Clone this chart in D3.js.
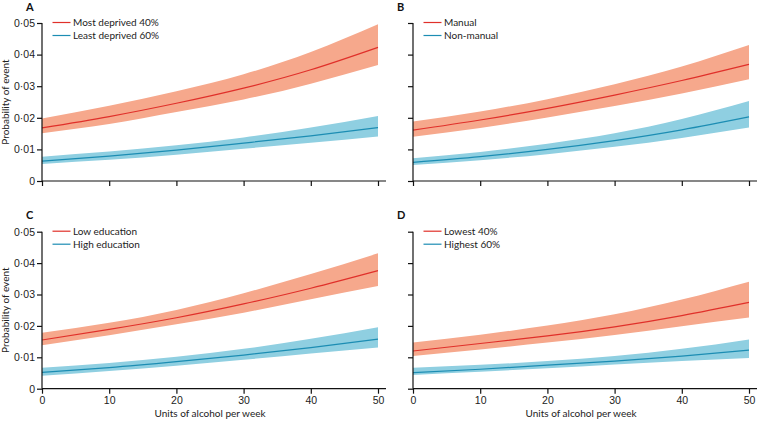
<!DOCTYPE html>
<html>
<head>
<meta charset="utf-8">
<script src="https://cdn.jsdelivr.net/npm/d3@7"></script>
<style>
  body { margin: 0; background: #fff; }
  svg { display: block; font-family: Lato, "Open Sans", sans-serif; }
  .axis path, .axis line { stroke: #111; stroke-width: 1.2; }
  .axis text { font-size: 10.5px; fill: #222; }
  .lbl { font-size: 10px; fill: #222; }
</style>
</head>
<body>
<svg id="chart" width="757" height="421"></svg>
<script>
const units = [0, 10, 20, 30, 40, 50];
const xTicks = [0, 10, 20, 30, 40, 50];
const yTicks = [0, 0.01, 0.02, 0.03, 0.04, 0.05];

// A: deprivation
const aRed   = [0.0168, 0.0204, 0.0246, 0.0294, 0.0352, 0.0423];
const aRedLo = [0.0151, 0.0180, 0.0218, 0.0258, 0.0308, 0.0367];
const aRedHi = [0.0198, 0.0238, 0.0284, 0.0338, 0.0408, 0.0496];
const aBlue   = [0.0063, 0.0079, 0.0098, 0.0120, 0.0143, 0.0169];
const aBlueLo = [0.0054, 0.0067, 0.0083, 0.0102, 0.0121, 0.0141];
const aBlueHi = [0.0077, 0.0093, 0.0113, 0.0138, 0.0169, 0.0206];

// B: occupation
const bRed   = [0.0161, 0.0193, 0.0230, 0.0272, 0.0318, 0.0369];
const bRedLo = [0.0140, 0.0168, 0.0201, 0.0237, 0.0277, 0.0322];
const bRedHi = [0.0188, 0.0220, 0.0259, 0.0306, 0.0362, 0.0430];
const bBlue   = [0.0059, 0.0077, 0.0100, 0.0128, 0.0162, 0.0203];
const bBlueLo = [0.0051, 0.0066, 0.0085, 0.0108, 0.0136, 0.0169];
const bBlueHi = [0.0072, 0.0092, 0.0118, 0.0151, 0.0196, 0.0253];

// C: education
const cRed   = [0.0155, 0.0189, 0.0226, 0.0270, 0.0320, 0.0376];
const cRedLo = [0.0138, 0.0170, 0.0205, 0.0242, 0.0285, 0.0327];
const cRedHi = [0.0178, 0.0210, 0.0251, 0.0304, 0.0365, 0.0431];
const cBlue   = [0.0052, 0.0067, 0.0086, 0.0107, 0.0131, 0.0158];
const cBlueLo = [0.0041, 0.0056, 0.0073, 0.0092, 0.0112, 0.0131];
const cBlueHi = [0.0067, 0.0082, 0.0102, 0.0127, 0.0159, 0.0196];

// D: income
const dRed   = [0.0120, 0.0144, 0.0168, 0.0197, 0.0233, 0.0275];
const dRedLo = [0.0104, 0.0125, 0.0147, 0.0171, 0.0199, 0.0227];
const dRedHi = [0.0147, 0.0172, 0.0201, 0.0237, 0.0284, 0.0341];
const dBlue   = [0.0051, 0.0062, 0.0075, 0.0088, 0.0104, 0.0123];
const dBlueLo = [0.0044, 0.0054, 0.0065, 0.0077, 0.0088, 0.0098];
const dBlueHi = [0.0067, 0.0076, 0.0088, 0.0104, 0.0127, 0.0157];

const legendA = ["Most deprived 40%", "Least deprived 60%"];
const legendB = ["Manual", "Non-manual"];
const legendC = ["Low education", "High education"];
const legendD = ["Lowest 40%", "Highest 60%"];

const colors = {
  redLine: "#e0302a", redBand: "#f6a88c",
  blueLine: "#1c8db3", blueBand: "#8fcfe1"
};

const svg = d3.select("#chart");
const fmt = d => d === 0 ? "0" : d3.format(".2f")(d).replace(".", "·");

const panels = [
  { id: "A", x0: 42, x1: 378, y0: 181, y1: 23, red: [aRed, aRedLo, aRedHi], blue: [aBlue, aBlueLo, aBlueHi], legend: legendA, yLab: true, xLab: false },
  { id: "B", x0: 413, x1: 749, y0: 181, y1: 23, red: [bRed, bRedLo, bRedHi], blue: [bBlue, bBlueLo, bBlueHi], legend: legendB, yLab: false, xLab: false },
  { id: "C", x0: 42, x1: 378, y0: 388.7, y1: 231.7, red: [cRed, cRedLo, cRedHi], blue: [cBlue, cBlueLo, cBlueHi], legend: legendC, yLab: true, xLab: true },
  { id: "D", x0: 413, x1: 749, y0: 388.7, y1: 231.7, red: [dRed, dRedLo, dRedHi], blue: [dBlue, dBlueLo, dBlueHi], legend: legendD, yLab: false, xLab: true }
];

panels.forEach(p => {
  const x = d3.scaleLinear().domain([0, 50]).range([p.x0, p.x1]);
  const y = d3.scaleLinear().domain([0, 0.05]).range([p.y0, p.y1]);
  const g = svg.append("g");

  const band = d3.area()
    .x(d => x(d.u)).y0(d => y(d.lo)).y1(d => y(d.hi))
    .curve(d3.curveNatural);
  const line = d3.line()
    .x(d => x(d.u)).y(d => y(d.v))
    .curve(d3.curveNatural);

  [["red", p.red], ["blue", p.blue]].forEach(([key, s]) => {
    const rows = units.map((u, i) => ({ u, v: s[0][i], lo: s[1][i], hi: s[2][i] }));
    g.append("path").datum(rows)
      .attr("d", band)
      .attr("fill", colors[key + "Band"]);
    g.append("path").datum(rows)
      .attr("d", line)
      .attr("fill", "none")
      .attr("stroke", colors[key + "Line"])
      .attr("stroke-width", 1.2);
  });

  // axes
  const xAxis = d3.axisBottom(x).tickValues(xTicks).tickSize(5).tickPadding(3)
    .tickFormat(p.xLab ? d3.format("d") : "");
  const gx = g.append("g").attr("class", "axis")
    .attr("transform", `translate(0,${p.y0})`)
    .call(xAxis);
  gx.select(".domain").attr("d", `M${p.x0},0H${p.x1 + 8}`);

  const yAxis = d3.axisLeft(y).tickValues(yTicks).tickSize(5).tickPadding(2)
    .tickFormat(p.yLab ? fmt : "");
  const gy = g.append("g").attr("class", "axis")
    .attr("transform", `translate(${p.x0},0)`)
    .call(yAxis);
  gy.select(".domain").attr("d", `M0,${p.y1}V${p.y0}`);

  // panel letter
  g.append("text")
    .attr("x", p.x0 - 16).attr("y", p.y1 - 12.5)
    .attr("font-size", "11px").attr("font-weight", "bold")
    .attr("fill", "#111")
    .text(p.id);

  // legend
  const lineColors = [colors.redLine, colors.blueLine];
  p.legend.forEach((t, i) => {
    const ly = p.y1 - 0.5 + i * 13;
    g.append("line")
      .attr("x1", p.x0 + 10.5).attr("x2", p.x0 + 28.5)
      .attr("y1", ly).attr("y2", ly)
      .attr("stroke", lineColors[i]).attr("stroke-width", 1.2);
    g.append("text").attr("class", "lbl")
      .attr("x", p.x0 + 31).attr("y", ly).attr("dy", "0.35em")
      .text(t);
  });

  if (p.yLab) {
    g.append("text").attr("class", "lbl")
      .attr("transform", `translate(9,${(p.y0 + p.y1) / 2}) rotate(-90)`)
      .attr("text-anchor", "middle")
      .text("Probability of event");
  }
  if (p.xLab) {
    g.append("text").attr("class", "lbl")
      .attr("x", (p.x0 + p.x1) / 2).attr("y", 417)
      .attr("text-anchor", "middle")
      .text("Units of alcohol per week");
  }
});
</script>
</body>
</html>
